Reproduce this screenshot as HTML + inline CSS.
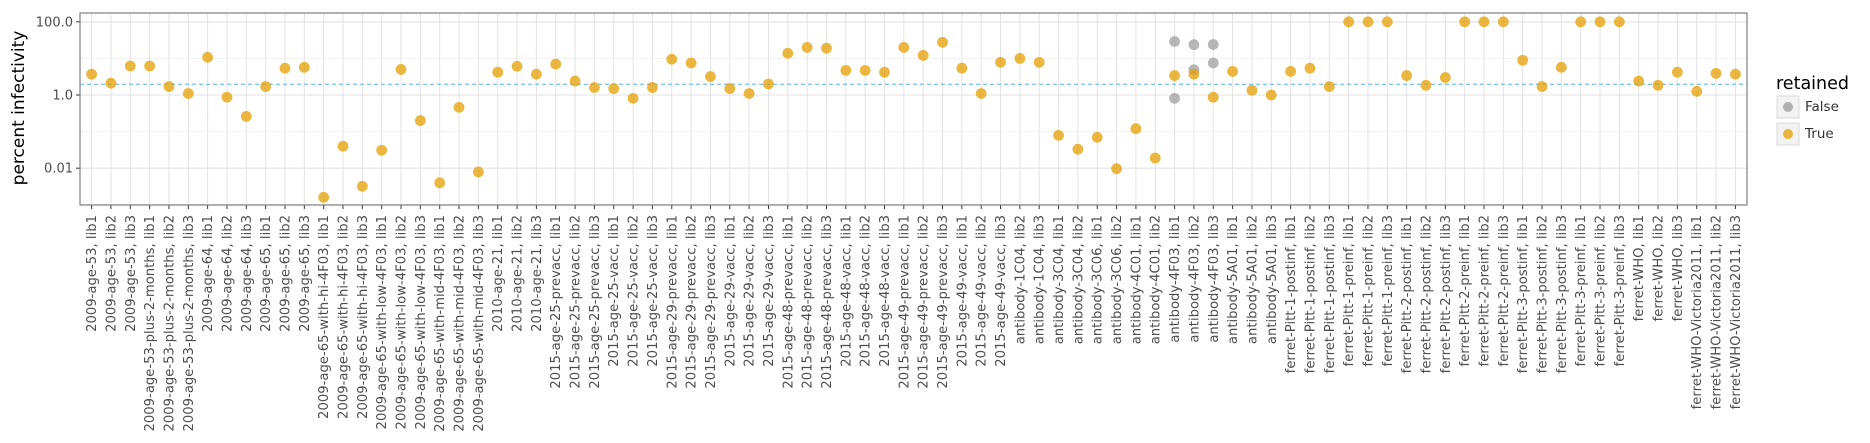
<!DOCTYPE html>
<html><head><meta charset="utf-8"><style>
html,body{margin:0;padding:0;background:#fff;}
svg{display:block;font-family:"DejaVu Sans","Liberation Sans",sans-serif;}
</style></head><body>
<svg id="chart" width="1870" height="443" viewBox="0 0 1870 443" xmlns="http://www.w3.org/2000/svg">
<rect x="0" y="0" width="1870" height="443" fill="#fff"/>
<g id="grid"></g>
<g id="marks"></g>
<g id="axes"></g>
<text x="0" y="0" transform="translate(24,108) rotate(-90)" text-anchor="middle" font-size="17" fill="#000">percent infectivity</text>
<g>
<text x="1776" y="89" font-size="17.5" fill="#000">retained</text>
<rect x="1777" y="96" width="22" height="22" fill="#f2f2f2" stroke="#d9d9d9"/>
<circle cx="1788" cy="107" r="5" fill="#999" fill-opacity="0.75"/>
<text x="1805" y="111" font-size="13.5" fill="#333">False</text>
<rect x="1777" y="123" width="22" height="22" fill="#f2f2f2" stroke="#d9d9d9"/>
<circle cx="1788" cy="134" r="5" fill="#E69F00" fill-opacity="0.75"/>
<text x="1805" y="138" font-size="13.5" fill="#333">True</text>
</g>
</svg>
<script>
const categories = [
"2009-age-53, lib1","2009-age-53, lib2","2009-age-53, lib3",
"2009-age-53-plus-2-months, lib1","2009-age-53-plus-2-months, lib2","2009-age-53-plus-2-months, lib3",
"2009-age-64, lib1","2009-age-64, lib2","2009-age-64, lib3",
"2009-age-65, lib1","2009-age-65, lib2","2009-age-65, lib3",
"2009-age-65-with-hi-4F03, lib1","2009-age-65-with-hi-4F03, lib2","2009-age-65-with-hi-4F03, lib3",
"2009-age-65-with-low-4F03, lib1","2009-age-65-with-low-4F03, lib2","2009-age-65-with-low-4F03, lib3",
"2009-age-65-with-mid-4F03, lib1","2009-age-65-with-mid-4F03, lib2","2009-age-65-with-mid-4F03, lib3",
"2010-age-21, lib1","2010-age-21, lib2","2010-age-21, lib3",
"2015-age-25-prevacc, lib1","2015-age-25-prevacc, lib2","2015-age-25-prevacc, lib3",
"2015-age-25-vacc, lib1","2015-age-25-vacc, lib2","2015-age-25-vacc, lib3",
"2015-age-29-prevacc, lib1","2015-age-29-prevacc, lib2","2015-age-29-prevacc, lib3",
"2015-age-29-vacc, lib1","2015-age-29-vacc, lib2","2015-age-29-vacc, lib3",
"2015-age-48-prevacc, lib1","2015-age-48-prevacc, lib2","2015-age-48-prevacc, lib3",
"2015-age-48-vacc, lib1","2015-age-48-vacc, lib2","2015-age-48-vacc, lib3",
"2015-age-49-prevacc, lib1","2015-age-49-prevacc, lib2","2015-age-49-prevacc, lib3",
"2015-age-49-vacc, lib1","2015-age-49-vacc, lib2","2015-age-49-vacc, lib3",
"antibody-1C04, lib2","antibody-1C04, lib3","antibody-3C04, lib1","antibody-3C04, lib2",
"antibody-3C06, lib1","antibody-3C06, lib2","antibody-4C01, lib1","antibody-4C01, lib2",
"antibody-4F03, lib1","antibody-4F03, lib2","antibody-4F03, lib3",
"antibody-5A01, lib1","antibody-5A01, lib2","antibody-5A01, lib3",
"ferret-Pitt-1-postinf, lib1","ferret-Pitt-1-postinf, lib2","ferret-Pitt-1-postinf, lib3",
"ferret-Pitt-1-preinf, lib1","ferret-Pitt-1-preinf, lib2","ferret-Pitt-1-preinf, lib3",
"ferret-Pitt-2-postinf, lib1","ferret-Pitt-2-postinf, lib2","ferret-Pitt-2-postinf, lib3",
"ferret-Pitt-2-preinf, lib1","ferret-Pitt-2-preinf, lib2","ferret-Pitt-2-preinf, lib3",
"ferret-Pitt-3-postinf, lib1","ferret-Pitt-3-postinf, lib2","ferret-Pitt-3-postinf, lib3",
"ferret-Pitt-3-preinf, lib1","ferret-Pitt-3-preinf, lib2","ferret-Pitt-3-preinf, lib3",
"ferret-WHO, lib1","ferret-WHO, lib2","ferret-WHO, lib3",
"ferret-WHO-Victoria2011, lib1","ferret-WHO-Victoria2011, lib2","ferret-WHO-Victoria2011, lib3"
];
const trueValues = [
3.7,2.1,6.2, 6.2,1.7,1.1, 10.7,0.87,0.26, 1.7,5.4,5.7,
0.0016,0.04,0.0032, 0.031,5.0,0.2, 0.004,0.46,0.0079,
4.2,6.1,3.7, 7.0,2.4,1.6, 1.5,0.81,1.6, 9.5,7.5,3.2, 1.5,1.1,2.0,
13.8,20,19, 4.7,4.7,4.2, 20,12.1,27.5, 5.4,1.1,7.8,
10,7.8,0.079,0.033, 0.07,0.0097,0.12,0.019,
3.4,3.7,0.87, 4.4,1.34,1.0,
4.4,5.4,1.7, 100,100,100, 3.4,1.84,3.0, 100,100,100,
8.9,1.7,5.7, 100,100,100, 2.4,1.84,4.2, 1.26,3.9,3.7
];
const falseIndex = [56,56,57,57,58,58];
const falseValues = [29,0.81,23.7,4.9,24,7.5];
const yTickValues = [100,1,0.01];
const yTickLabels = ["100.0","1.0","0.01"];
const minorTickValues = [1000,10,0.1,0.001];
const thresholdValue = 1.96;

const NS="http://www.w3.org/2000/svg";
const plotL=80, plotR=1747, plotT=13, plotB=205;
const n=categories.length;
const step=(plotR-plotL)/(n-1+1.2);
function xPos(i){return plotL+step*(i+0.6);}
const decadePx=36.6, y1=95;
function yPos(v){return y1-Math.log10(v)*decadePx;}
function mk(tag,attrs,parent){const e=document.createElementNS(NS,tag);for(const k in attrs)e.setAttribute(k,attrs[k]);parent.appendChild(e);return e;}
const grid=document.getElementById('grid'),marks=document.getElementById('marks'),axes=document.getElementById('axes');

const bg=mk('rect',{x:plotL,y:plotT,width:plotR-plotL,height:plotB-plotT,fill:'#fff'},grid);


minorTickValues.forEach(v=>{const y=yPos(v);if(y>plotT&&y<plotB){
  const l=mk('line',{x1:plotL,x2:plotR,y1:y,y2:y,stroke:'#f0f0f0','stroke-width':1},grid);
  
  
}});
yTickValues.forEach((v,k)=>{const y=yPos(v);
  const l=mk('line',{x1:plotL,x2:plotR,y1:y,y2:y,stroke:'#e3e3e3','stroke-width':1.1},grid);
  
  
  const t=mk('line',{x1:plotL-4,x2:plotL,y1:y,y2:y,stroke:'#333','stroke-width':1},axes);
  
  
  const tx=mk('text',{x:plotL-7,y:y+4.5,'text-anchor':'end','font-size':13,fill:'#4d4d4d'},axes);
  tx.textContent=yTickLabels[k];
  
  
});
categories.forEach((c,i)=>{const x=xPos(i);
  const l=mk('line',{x1:x,x2:x,y1:plotT,y2:plotB,stroke:'#e3e3e3','stroke-width':1},grid);
  
  
  const t=mk('line',{x1:x,x2:x,y1:plotB,y2:plotB+4,stroke:'#333','stroke-width':1},axes);
  
  
  const tx=mk('text',{x:0,y:0,transform:'translate('+(x+4.5)+','+(plotB+10)+') rotate(-90)','text-anchor':'end','font-size':13.2,fill:'#4d4d4d'},axes);
  tx.textContent=c;
  
  
});
const fr=mk('rect',{x:plotL,y:plotT,width:plotR-plotL,height:plotB-plotT,fill:'none',stroke:'#7f7f7f','stroke-width':1.2},axes);


const th=mk('line',{x1:plotL,x2:plotR,y1:yPos(thresholdValue),y2:yPos(thresholdValue),stroke:'#56B4E9','stroke-width':1,'stroke-dasharray':'4,3'},marks);


falseIndex.forEach((ci,k)=>{
  const p=mk('circle',{cx:xPos(ci),cy:yPos(falseValues[k]),r:5.4,fill:'#999999','fill-opacity':0.7},marks);
  
  
});
trueValues.forEach((v,i)=>{
  const p=mk('circle',{cx:xPos(i),cy:yPos(v),r:5.4,fill:'#E69F00','fill-opacity':0.75},marks);
  
  
});
</script>
</body></html>
